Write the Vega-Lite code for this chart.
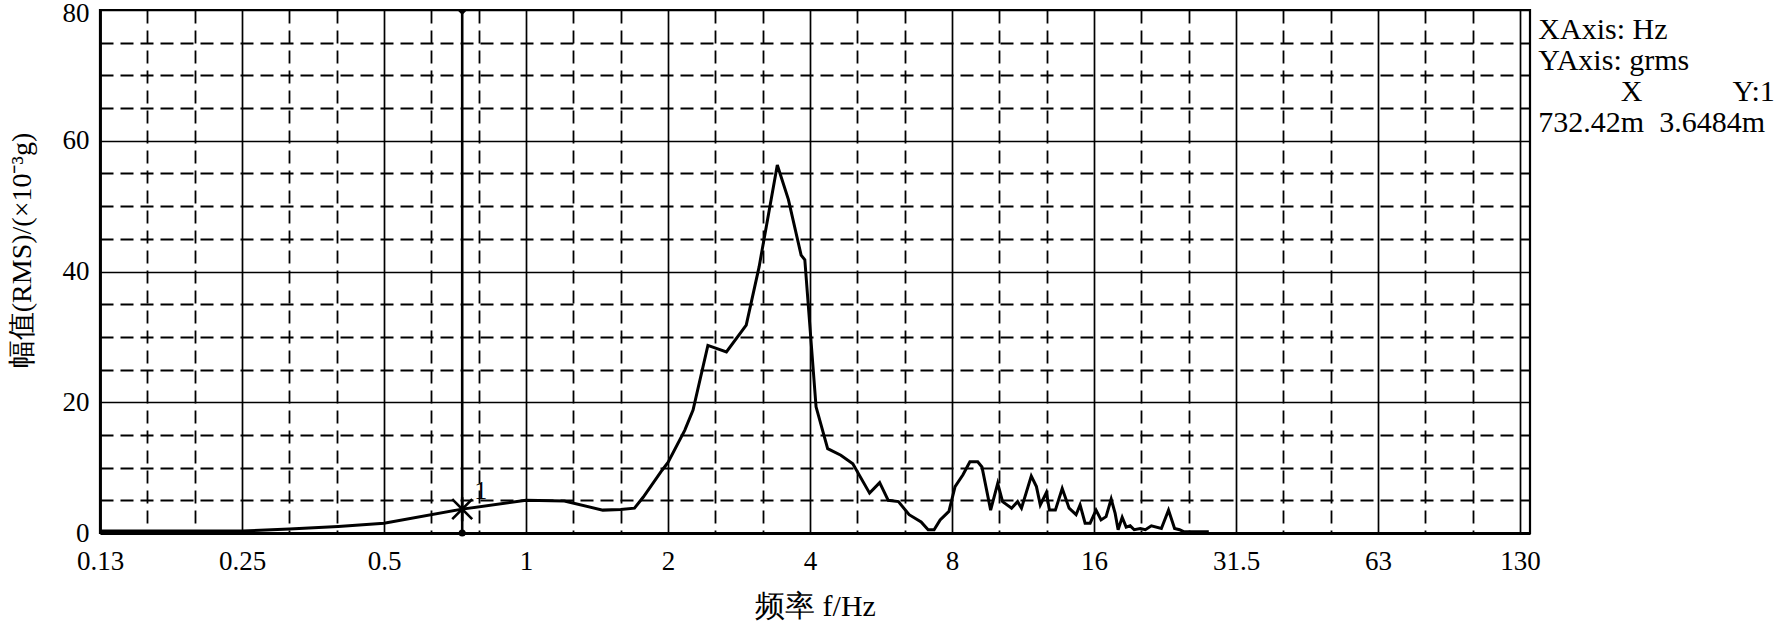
{
  "$schema": "https://vega.github.io/schema/vega-lite/v6.json",
  "width": 1430,
  "height": 523,
  "autosize": {"type": "none"},
  "padding": {"left": 100, "top": 10, "right": 247, "bottom": 94},
  "background": "white",
  "config": {
    "view": {"stroke": "black", "strokeWidth": 2.2},
    "font": "Liberation Serif, Times New Roman, serif",
    "axis": {
      "labelFont": "Liberation Serif, Times New Roman, serif",
      "labelFontSize": 27,
      "labelColor": "black",
      "titleFont": "Liberation Serif, Times New Roman, serif",
      "titleFontSize": 28,
      "titleFontWeight": "normal",
      "titleColor": "black",
      "domainColor": "black",
      "labelFlush": false,
      "labelOverlap": false,
      "ticks": false,
      "tickSize": 0
    }
  },
  "datasets": {
    "spectrum": [
      {"f": 0.125, "v": 0.3}, {"f": 0.18, "v": 0.3}, {"f": 0.25, "v": 0.3},
      {"f": 0.315, "v": 0.6}, {"f": 0.4, "v": 1.0}, {"f": 0.5, "v": 1.5},
      {"f": 0.73242, "v": 3.65}, {"f": 1.0, "v": 5.0}, {"f": 1.206, "v": 4.9},
      {"f": 1.455, "v": 3.5}, {"f": 1.587, "v": 3.6}, {"f": 1.698, "v": 3.8},
      {"f": 1.773, "v": 5.5}, {"f": 1.943, "v": 9.6}, {"f": 2.0, "v": 10.8},
      {"f": 2.17, "v": 15.7}, {"f": 2.26, "v": 18.8}, {"f": 2.43, "v": 28.7},
      {"f": 2.66, "v": 27.7}, {"f": 2.93, "v": 31.8}, {"f": 3.12, "v": 40.7},
      {"f": 3.41, "v": 56.3}, {"f": 3.6, "v": 51.0}, {"f": 3.83, "v": 42.5},
      {"f": 3.9, "v": 41.8}, {"f": 4.12, "v": 19.3}, {"f": 4.36, "v": 12.9},
      {"f": 4.65, "v": 11.9}, {"f": 4.93, "v": 10.6}, {"f": 5.35, "v": 6.1},
      {"f": 5.62, "v": 7.7}, {"f": 5.86, "v": 5.0}, {"f": 6.16, "v": 4.8},
      {"f": 6.49, "v": 2.8}, {"f": 6.88, "v": 1.7}, {"f": 7.12, "v": 0.5},
      {"f": 7.33, "v": 0.5}, {"f": 7.55, "v": 2.0}, {"f": 7.88, "v": 3.3},
      {"f": 8.12, "v": 7.1}, {"f": 8.44, "v": 8.9}, {"f": 8.73, "v": 10.9},
      {"f": 9.07, "v": 10.9}, {"f": 9.26, "v": 10.1}, {"f": 9.66, "v": 3.5},
      {"f": 10.0, "v": 7.6}, {"f": 10.24, "v": 4.8}, {"f": 10.7, "v": 3.8},
      {"f": 11.02, "v": 4.8}, {"f": 11.23, "v": 3.8}, {"f": 11.78, "v": 8.7},
      {"f": 12.08, "v": 7.1}, {"f": 12.31, "v": 4.3}, {"f": 12.68, "v": 6.2},
      {"f": 12.87, "v": 3.5}, {"f": 13.25, "v": 3.5}, {"f": 13.7, "v": 6.8},
      {"f": 14.17, "v": 3.8}, {"f": 14.66, "v": 2.8}, {"f": 14.95, "v": 4.3},
      {"f": 15.32, "v": 1.5}, {"f": 15.7, "v": 1.5}, {"f": 16.16, "v": 3.5},
      {"f": 16.56, "v": 2.0}, {"f": 16.97, "v": 2.5}, {"f": 17.4, "v": 5.2},
      {"f": 17.74, "v": 3.0}, {"f": 18.0, "v": 0.5}, {"f": 18.36, "v": 2.4},
      {"f": 18.72, "v": 0.9}, {"f": 19.09, "v": 1.1}, {"f": 19.47, "v": 0.5},
      {"f": 20.06, "v": 0.7}, {"f": 20.56, "v": 0.5}, {"f": 21.17, "v": 1.1},
      {"f": 22.23, "v": 0.7}, {"f": 23.02, "v": 3.5}, {"f": 23.71, "v": 0.7},
      {"f": 24.29, "v": 0.5}, {"f": 24.78, "v": 0.2}, {"f": 28.02, "v": 0.2}
    ],
    "cursor": [{"f": 0.73242, "v": 3.6484, "label": "1"}]
  },
  "layer": [
    {
      "data": {"name": "cursor"},
      "mark": {"type": "rule", "color": "black", "strokeWidth": 2.6},
      "encoding": {
        "x": {
          "field": "f", "type": "quantitative",
          "scale": {"type": "log", "base": 2, "domain": [0.125, 134.4], "nice": false},
          "axis": {
            "orient": "bottom", "title": null, "labels": false, "domain": false,
            "values": [0.15749, 0.19843, 0.31498, 0.39685, 0.62996, 0.7937, 1.25992, 1.5874, 2.51984, 3.1748, 5.0397, 6.3496, 10.0794, 12.6992, 20.1587, 25.3984, 40.3175, 50.7968, 80.635, 101.594],
            "grid": true, "gridColor": "black", "gridDash": [13, 7], "gridWidth": 1.8
          }
        },
        "y": {
          "datum": 0, "type": "quantitative",
          "scale": {"domain": [0, 80], "nice": false},
          "axis": {
            "orient": "left", "title": null, "labels": false, "domain": false,
            "values": [5, 10, 15, 25, 30, 35, 45, 50, 55, 65, 70, 75],
            "grid": true, "gridColor": "black", "gridDash": [13, 7], "gridWidth": 1.8
          }
        },
        "y2": {"datum": 80}
      }
    },
    {
      "data": {"name": "spectrum"},
      "mark": {"type": "line", "color": "black", "strokeWidth": 3},
      "encoding": {
        "x": {
          "field": "f", "type": "quantitative",
          "scale": {"type": "log", "base": 2, "domain": [0.125, 134.4], "nice": false},
          "axis": {
            "orient": "bottom",
            "title": "频率 f/Hz",
            "titleFont": "Liberation Serif, Times New Roman, serif",
            "titleFontSize": 30,
            "titleFontWeight": "normal",
            "labelFont": "Liberation Serif, Times New Roman, serif",
            "labelFontSize": 27,
            "values": [0.125, 0.25, 0.5, 1, 2, 4, 8, 16, 32, 64, 128],
            "labelExpr": "datum.value < 0.2 ? '0.13' : datum.value < 0.3 ? '0.25' : datum.value < 0.6 ? '0.5' : datum.value == 32 ? '31.5' : datum.value == 64 ? '63' : datum.value == 128 ? '130' : '' + datum.value",
            "labelPadding": 15,
            "titlePadding": 17,
            "domain": true, "domainWidth": 2.8,
            "grid": true, "gridColor": "black", "gridWidth": 1.7
          }
        },
        "y": {
          "field": "v", "type": "quantitative",
          "scale": {"domain": [0, 80], "nice": false},
          "axis": {
            "orient": "left",
            "title": "幅值(RMS)/(×10⁻³g)",
            "titleFont": "Liberation Serif, Times New Roman, serif",
            "titleFontSize": 28,
            "titleFontWeight": "normal",
            "labelFont": "Liberation Serif, Times New Roman, serif",
            "labelFontSize": 27,
            "labelOffset": {"condition": {"test": "datum.value == 80", "value": 3}, "value": 0},
            "titleY": 240,
            "titlePadding": 26,
            "values": [0, 20, 40, 60, 80],
            "labelPadding": 11,
            "domain": true, "domainWidth": 2.8,
            "grid": true, "gridColor": "black", "gridWidth": 1.6
          }
        }
      }
    },
    {
      "data": {"name": "cursor"},
      "mark": {"type": "point", "shape": "M-1,-1L1,1M-1,1L1,-1M0,-1.2L0,1.2", "filled": false, "stroke": "black", "strokeWidth": 2.6, "size": 400, "opacity": 1},
      "encoding": {
        "x": {"field": "f", "type": "quantitative", "axis": null},
        "y": {"field": "v", "type": "quantitative", "axis": null}
      }
    },
    {
      "data": {"name": "cursor"},
      "mark": {"type": "point", "shape": "M-1,0L1,0L0,1Z", "filled": true, "color": "black", "size": 100, "opacity": 1},
      "encoding": {
        "x": {"field": "f", "type": "quantitative", "axis": null},
        "y": {"datum": 80, "type": "quantitative", "axis": null}
      }
    },
    {
      "data": {"name": "cursor"},
      "mark": {"type": "point", "shape": "circle", "filled": true, "color": "black", "size": 50, "opacity": 1},
      "encoding": {
        "x": {"field": "f", "type": "quantitative", "axis": null},
        "y": {"datum": 0, "type": "quantitative", "axis": null}
      }
    },
    {
      "data": {"name": "cursor"},
      "mark": {"type": "text", "font": "Liberation Serif, Times New Roman, serif", "fontSize": 26, "color": "black", "align": "left", "baseline": "alphabetic", "dx": 12, "dy": -10},
      "encoding": {
        "x": {"field": "f", "type": "quantitative", "axis": null},
        "y": {"field": "v", "type": "quantitative", "axis": null},
        "text": {"field": "label"}
      }
    },
    {
      "data": {"name": "cursor"},
      "mark": {
        "type": "text", "font": "Liberation Serif, Times New Roman, serif", "fontSize": 30, "color": "black",
        "align": "left", "baseline": "top", "lineHeight": 31,
        "text": ["XAxis: Hz", "YAxis: grms", "\u200b\u00a0\u00a0\u00a0\u00a0\u00a0\u00a0\u00a0\u00a0\u00a0\u00a0\u00a0X\u00a0\u00a0\u00a0\u00a0\u00a0\u00a0\u00a0\u00a0\u00a0\u00a0\u00a0\u00a0Y:1", "732.42m\u00a0\u00a03.6484m"]
      },
      "encoding": {
        "x": {"datum": 140, "type": "quantitative", "axis": null},
        "y": {"datum": 79.3, "type": "quantitative", "axis": null}
      }
    }
  ],
  "resolve": {"axis": {"x": "independent", "y": "independent"}}
}
